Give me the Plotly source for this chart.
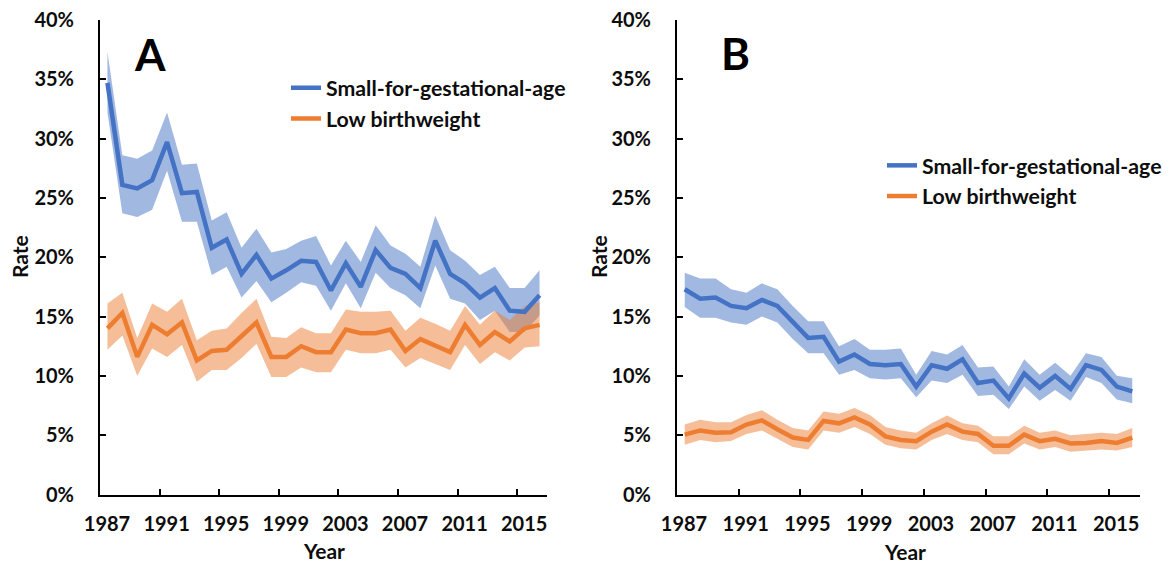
import plotly.graph_objects as go

years = list(range(1987, 2017))

# Panel A (percent)
sga_a = [34.7, 26.1, 25.8, 26.5, 29.7, 25.4, 25.5, 20.8, 21.5, 18.6, 20.2, 18.2, 18.9, 19.7, 19.6,
         17.2, 19.5, 17.5, 20.6, 19.1, 18.6, 17.4, 21.4, 18.6, 17.8, 16.6, 17.4, 15.5, 15.4, 16.8]
sga_a_lo = [32.2, 23.7, 23.4, 24.0, 27.3, 23.0, 23.0, 18.5, 19.2, 16.6, 18.0, 16.2, 17.0, 17.9, 17.6,
            15.5, 17.8, 15.7, 18.7, 17.4, 16.8, 15.7, 19.3, 16.5, 16.1, 14.7, 15.5, 13.7, 13.7, 15.1]
sga_a_hi = [37.3, 28.6, 28.3, 29.0, 32.2, 27.8, 27.9, 23.1, 23.8, 20.8, 22.4, 20.4, 20.7, 21.4, 21.8,
            19.3, 21.4, 19.6, 22.7, 21.0, 20.3, 19.2, 23.5, 20.6, 19.7, 18.5, 19.2, 17.4, 17.4, 18.9]
lbw_a = [14.0, 15.3, 11.6, 14.3, 13.5, 14.5, 11.3, 12.1, 12.2, 13.3, 14.5, 11.6, 11.6, 12.5, 12.0,
         12.0, 13.9, 13.6, 13.6, 13.9, 12.1, 13.1, 12.6, 12.0, 14.3, 12.6, 13.7, 12.9, 14.0, 14.3]
lbw_a_lo = [12.2, 13.4, 10.0, 12.3, 11.6, 12.6, 9.5, 10.5, 10.5, 11.5, 12.7, 9.9, 9.9, 10.7, 10.3,
            10.3, 12.2, 11.9, 11.9, 12.2, 10.7, 11.5, 11.0, 10.5, 12.6, 11.0, 12.0, 11.3, 12.4, 12.5]
lbw_a_hi = [16.1, 17.0, 13.2, 16.1, 15.4, 16.5, 13.0, 13.8, 14.0, 15.3, 16.5, 13.3, 13.2, 14.1, 13.6,
            13.6, 15.6, 15.4, 15.4, 15.5, 13.8, 14.9, 14.4, 13.8, 15.9, 14.3, 15.5, 14.7, 15.9, 16.2]

# Panel B (percent)
sga_b = [17.3, 16.5, 16.6, 15.9, 15.7, 16.4, 15.9, 14.5, 13.2, 13.3, 11.2, 11.8, 11.0, 10.9, 11.0,
         9.1, 10.9, 10.6, 11.4, 9.4, 9.6, 8.1, 10.2, 9.0, 10.0, 8.9, 10.9, 10.5, 9.1, 8.7]
sga_b_lo = [15.8, 14.9, 14.9, 14.5, 14.3, 15.0, 14.5, 13.1, 11.9, 11.9, 10.1, 10.5, 9.8, 9.7, 9.8,
            8.2, 9.6, 9.4, 10.1, 8.3, 8.4, 7.2, 9.1, 7.9, 8.8, 7.9, 9.9, 9.4, 8.0, 7.7]
sga_b_hi = [18.7, 18.2, 18.2, 17.3, 17.0, 17.8, 17.3, 15.9, 14.6, 14.6, 12.5, 13.1, 12.2, 12.2, 12.3,
            10.1, 12.1, 11.8, 12.6, 10.7, 10.8, 9.1, 11.4, 10.1, 11.1, 10.0, 11.9, 11.6, 10.0, 9.8]
lbw_b = [5.05, 5.4, 5.2, 5.25, 5.9, 6.25, 5.5, 4.8, 4.6, 6.2, 6.0, 6.5, 5.9, 4.9, 4.6,
         4.5, 5.3, 5.9, 5.3, 5.1, 4.1, 4.1, 5.05, 4.5, 4.7, 4.3, 4.35, 4.5, 4.35, 4.8]
lbw_b_lo = [4.2, 4.6, 4.4, 4.5, 5.1, 5.4, 4.7, 4.0, 3.8, 5.4, 5.2, 5.7, 5.1, 4.2, 3.9,
            3.8, 4.6, 5.1, 4.6, 4.4, 3.4, 3.4, 4.3, 3.8, 4.0, 3.6, 3.7, 3.8, 3.7, 4.0]
lbw_b_hi = [5.9, 6.3, 6.1, 6.1, 6.7, 7.1, 6.3, 5.6, 5.4, 7.0, 6.8, 7.3, 6.7, 5.7, 5.4,
            5.2, 6.0, 6.65, 6.0, 5.8, 4.9, 4.9, 5.8, 5.2, 5.4, 5.0, 5.1, 5.2, 5.1, 5.6]

series_names = ["Small-for-gestational-age", "Low birthweight"]
tick_years = [1987, 1991, 1995, 1999, 2003, 2007, 2011, 2015]
y_ticks = [0, 5, 10, 15, 20, 25, 30, 35, 40]
y_tick_labels = [f"{v}%" for v in y_ticks]

BLUE = "#4472C4"
ORANGE = "#ED7D31"
BLUE_BAND = "rgba(68,114,196,0.5)"
ORANGE_BAND = "rgba(237,125,49,0.5)"
FONT = "Lato"
TXT = "#0d0d0d"

W, H = 1169, 564
fig = go.Figure()


def band(x, lo, hi, color, xa, ya):
    return go.Scatter(x=list(x) + list(x)[::-1], y=list(hi) + list(lo)[::-1],
                      fill="toself", fillcolor=color, line=dict(width=0),
                      mode="lines", hoverinfo="skip", showlegend=False,
                      xaxis=xa, yaxis=ya)


for (sga, slo, shi, lbw, llo, lhi, xa, ya, lg) in [
        (sga_a, sga_a_lo, sga_a_hi, lbw_a, lbw_a_lo, lbw_a_hi, "x", "y", "legend"),
        (sga_b, sga_b_lo, sga_b_hi, lbw_b, lbw_b_lo, lbw_b_hi, "x2", "y2", "legend2")]:
    fig.add_trace(band(years, slo, shi, BLUE_BAND, xa, ya))
    fig.add_trace(band(years, llo, lhi, ORANGE_BAND, xa, ya))
    fig.add_trace(go.Scatter(x=years, y=sga, mode="lines", name=series_names[0],
                             line=dict(color=BLUE, width=4.5), xaxis=xa, yaxis=ya, legend=lg))
    fig.add_trace(go.Scatter(x=years, y=lbw, mode="lines", name=series_names[1],
                             line=dict(color=ORANGE, width=4.5), xaxis=xa, yaxis=ya, legend=lg))

tickfont = dict(family=FONT, size=20, color=TXT, weight="bold")
xcommon = dict(range=[years[0] - 0.5, years[-1] + 0.5],
               tickmode="array",
               tickvals=[t - 0.5 for t in tick_years], ticktext=[str(t) for t in tick_years],
               ticklabelshift=7, ticks="inside", ticklen=6, tickwidth=2, tickcolor="black",
               showline=True, linecolor="black", linewidth=2, showgrid=False, zeroline=False,
               tickfont=tickfont, ticklabelstandoff=10, fixedrange=True, automargin=False)
ycommon = dict(range=[0, 40], tickmode="array", tickvals=y_ticks, ticktext=y_tick_labels,
               ticks="inside", ticklen=6,
               tickwidth=2, tickcolor="black", showline=True, linecolor="black", linewidth=2,
               showgrid=False, zeroline=False, tickfont=tickfont, ticklabelstandoff=20,
               fixedrange=True, automargin=False)

y0 = 1 - 494.5 / H
y1 = 1 - 20 / H
legfont = dict(family=FONT, size=21.3, color=TXT, weight="bold")
fig.update_layout(
    width=W, height=H, margin=dict(l=0, r=0, t=0, b=0, autoexpand=False),
    paper_bgcolor="white", plot_bgcolor="white",
    xaxis=dict(domain=[100 / W, 547 / W], anchor="y", **xcommon),
    yaxis=dict(domain=[y0, y1], anchor="x", **ycommon),
    xaxis2=dict(domain=[677 / W, 1140 / W], anchor="y2", **xcommon),
    yaxis2=dict(domain=[y0, y1], anchor="x2", **ycommon),
    legend=dict(x=286 / W, y=1 - 67.5 / H, xanchor="left", yanchor="top",
                font=legfont, bgcolor="rgba(0,0,0,0)", tracegroupgap=0, itemwidth=30),
    legend2=dict(x=882 / W, y=1 - 145 / H, xanchor="left", yanchor="top",
                 font=legfont, bgcolor="rgba(0,0,0,0)", tracegroupgap=0, itemwidth=30),
    showlegend=True,
)

ann_font = dict(family=FONT, size=21, color=TXT, weight="bold")
annotations = [
    dict(text="A", x=150 / W, y=1 - 54 / H, font=dict(family=FONT, size=44, color="black", weight="bold")),
    dict(text="B", x=735 / W, y=1 - 53 / H, font=dict(family=FONT, size=44, color="black", weight="bold")),
    dict(text="Rate", x=19 / W, y=1 - 257 / H, textangle=-90, font=ann_font),
    dict(text="Rate", x=598 / W, y=1 - 257 / H, textangle=-90, font=ann_font),
    dict(text="Year", x=324 / W, y=1 - 550 / H, font=ann_font),
    dict(text="Year", x=905 / W, y=1 - 551 / H, font=ann_font),
]
for a in annotations:
    a.update(xref="paper", yref="paper", showarrow=False, xanchor="center", yanchor="middle")
fig.update_layout(annotations=annotations)

fig.write_html("out.html", config={"displayModeBar": False},
               post_script="document.body.style.margin='0';")
